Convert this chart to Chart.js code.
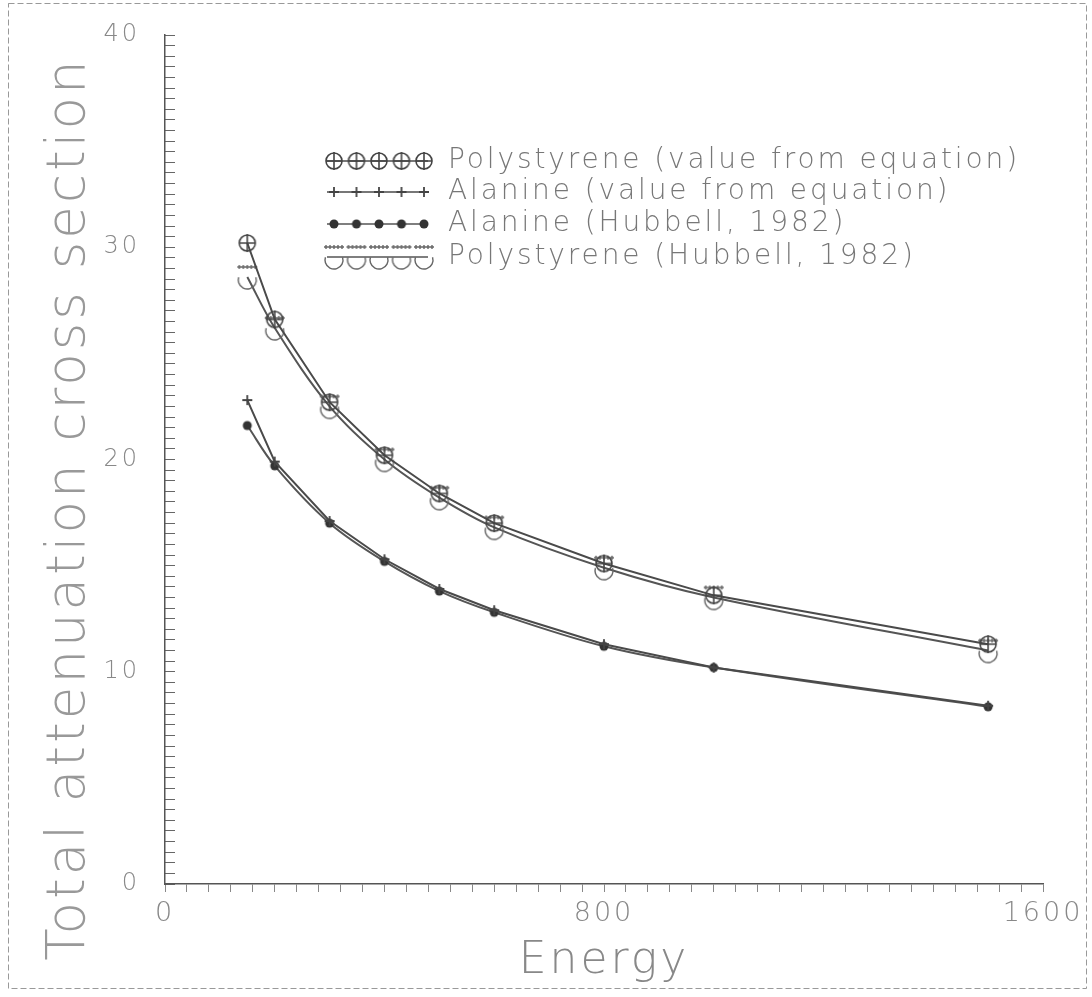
<!DOCTYPE html>
<html>
<head>
<meta charset="utf-8">
<script src="https://cdn.jsdelivr.net/npm/chart.js@4.4.1/dist/chart.umd.min.js"></script>
<style>
  html, body { margin: 0; padding: 0; background: #fff; }
  canvas { display: block; }
</style>
</head>
<body>
<canvas id="chart" width="1092" height="997"></canvas>
<script>
// values
const energies = [150, 200, 300, 400, 500, 600, 800, 1000, 1500];
const polyEquation = [30.2, 26.6, 22.7, 20.2, 18.4, 17.0, 15.1, 13.6, 11.3];
const alanineEquation = [22.8, 19.9, 17.1, 15.3, 13.9, 12.9, 11.3, 10.2, 8.4];
const alanineHubbell = [21.6, 19.7, 17.0, 15.2, 13.8, 12.8, 11.2, 10.2, 8.35];
const polyHubbell = [28.6, 26.2, 22.5, 20.0, 18.2, 16.8, 14.9, 13.5, 11.0];
const seriesNames = [
    'Polystyrene (value from equation)',
    'Alanine (value from equation)',
    'Alanine (Hubbell, 1982)',
    'Polystyrene (Hubbell, 1982)'
];
const xTickLabels = [0, 800, 1600];
const yTickLabels = [0, 10, 20, 30, 40];
const yMinorStep = 0.5;

// little canvases used as point styles
function marker(w, h, paint) {
    const c = document.createElement('canvas');
    c.width = w;
    c.height = h;
    const g = c.getContext('2d');
    g.strokeStyle = '#444';
    g.fillStyle = '#333';
    g.lineWidth = 1.6;
    paint(g);
    return c;
}
const circlePlus = marker(22, 22, g => {
    g.beginPath(); g.arc(11, 11, 8, 0, Math.PI * 2); g.stroke();
    g.beginPath();
    g.moveTo(3, 11); g.lineTo(19, 11);
    g.moveTo(11, 2); g.lineTo(11, 20);
    g.stroke();
});
const smallPlus = marker(12, 12, g => {
    g.lineWidth = 1.8;
    g.beginPath();
    g.moveTo(1, 6); g.lineTo(11, 6);
    g.moveTo(6, 1); g.lineTo(6, 11);
    g.stroke();
});
const dot = marker(12, 12, g => {
    g.beginPath(); g.arc(6, 6, 4.5, 0, Math.PI * 2); g.fill();
});
const openCup = marker(26, 30, g => {
    g.strokeStyle = '#666';
    g.lineWidth = 1.4;
    g.beginPath(); g.arc(13, 18, 9, -0.1 * Math.PI, 1.1 * Math.PI); g.stroke();
    g.beginPath();
    g.moveTo(3, 5); g.lineTo(23, 5);
    for (let x = 5; x <= 21; x += 4) { g.moveTo(x, 3); g.lineTo(x, 7); }
    g.stroke();
});

function points(values) {
    return energies.map((x, i) => ({ x: x, y: values[i] }));
}

const framePlugin = {
    id: 'frame',
    beforeDraw(chart) {
        const ctx = chart.ctx;
        ctx.save();
        ctx.strokeStyle = '#999';
        ctx.lineWidth = 1;
        ctx.setLineDash([6, 3]);
        ctx.strokeRect(8.5, 3.5, 1078, 985);
        ctx.restore();
        ctx.letterSpacing = '3px';
    }
};

// legend with five markers per sample, drawn inside the plot
const legendPlugin = {
    id: 'sampleLegend',
    afterDraw(chart) {
        const ctx = chart.ctx;
        const rows = [161, 192, 224, 257];
        ctx.save();
        ctx.letterSpacing = '2.9px';
        ctx.font = "300 28px 'DejaVu Sans'";
        ctx.textAlign = 'left';
        ctx.textBaseline = 'middle';
        chart.data.datasets.forEach((ds, i) => {
            const y = rows[i];
            ctx.strokeStyle = ds.borderColor;
            ctx.lineWidth = 1.6;
            ctx.beginPath();
            ctx.moveTo(327, y);
            ctx.lineTo(428, y);
            ctx.stroke();
            for (let k = 0; k < 5; k++) {
                const px = 334 + k * 22.5;
                const img = ds.pointStyle;
                ctx.drawImage(img, px - img.width / 2, y - img.height / 2);
            }
            ctx.fillStyle = '#777';
            ctx.fillText(ds.label, 448, y);
        });
        ctx.restore();
    }
};

new Chart(document.getElementById('chart'), {
    type: 'line',
    data: {
        datasets: [
            { label: seriesNames[0], data: points(polyEquation), pointStyle: circlePlus, borderColor: '#4a4a4a', tension: 0 },
            { label: seriesNames[1], data: points(alanineEquation), pointStyle: smallPlus, borderColor: '#4a4a4a', tension: 0 },
            { label: seriesNames[2], data: points(alanineHubbell), pointStyle: dot, borderColor: '#555', tension: 0.35 },
            { label: seriesNames[3], data: points(polyHubbell), pointStyle: openCup, borderColor: '#555', tension: 0.35 }
        ]
    },
    options: {
        responsive: false,
        animation: false,
        devicePixelRatio: 1,
        layout: { padding: { top: 35, right: 49, bottom: 0, left: 0 } },
        elements: { line: { borderWidth: 2 }, point: { radius: 8 } },
        plugins: { legend: { display: false }, tooltip: { enabled: false } },
        scales: {
            x: {
                type: 'linear',
                min: 0,
                max: 1600,
                afterFit: s => { s.height = 113; s.paddingLeft = 0; s.paddingRight = 0; },
                border: { color: '#555', width: 1.5 },
                grid: { drawOnChartArea: false, tickLength: 8, color: '#888' },
                ticks: {
                    stepSize: 40,
                    maxTicksLimit: 200,
                    autoSkip: false,
                    maxRotation: 0,
                    padding: 6,
                    color: '#888',
                    font: { family: 'DejaVu Sans', size: 27, weight: '300' },
                    callback: v => xTickLabels.includes(v) ? String(v) : ''
                },
                title: {
                    display: true,
                    text: 'Energy',
                    color: '#888',
                    font: { family: 'DejaVu Sans', size: 44, weight: '300' },
                    padding: { top: 0, bottom: 9 }
                }
            },
            y: {
                min: 0,
                max: 40,
                afterFit: s => { s.width = 165; s.paddingTop = 0; s.paddingBottom = 0; },
                afterBuildTicks: s => {
                    const ticks = [];
                    for (let v = s.min; v <= s.max + 1e-9; v += yMinorStep) ticks.push({ value: v });
                    s.ticks = ticks;
                },
                border: { color: '#555', width: 1.5 },
                grid: { drawOnChartArea: false, tickLength: -10, color: '#666' },
                ticks: {
                    maxTicksLimit: 200,
                    autoSkip: false,
                    padding: 35,
                    color: '#888',
                    font: { family: 'DejaVu Sans', size: 24, weight: '300' },
                    callback: v => yTickLabels.includes(v) ? String(v) : ''
                },
                title: {
                    display: true,
                    text: 'Total attenuation cross section     ',
                    color: '#999',
                    font: { family: 'DejaVu Sans', size: 53, weight: '300' },
                    padding: { top: 38, bottom: 0 }
                }
            }
        }
    },
    plugins: [framePlugin, legendPlugin]
});
</script>
</body>
</html>
